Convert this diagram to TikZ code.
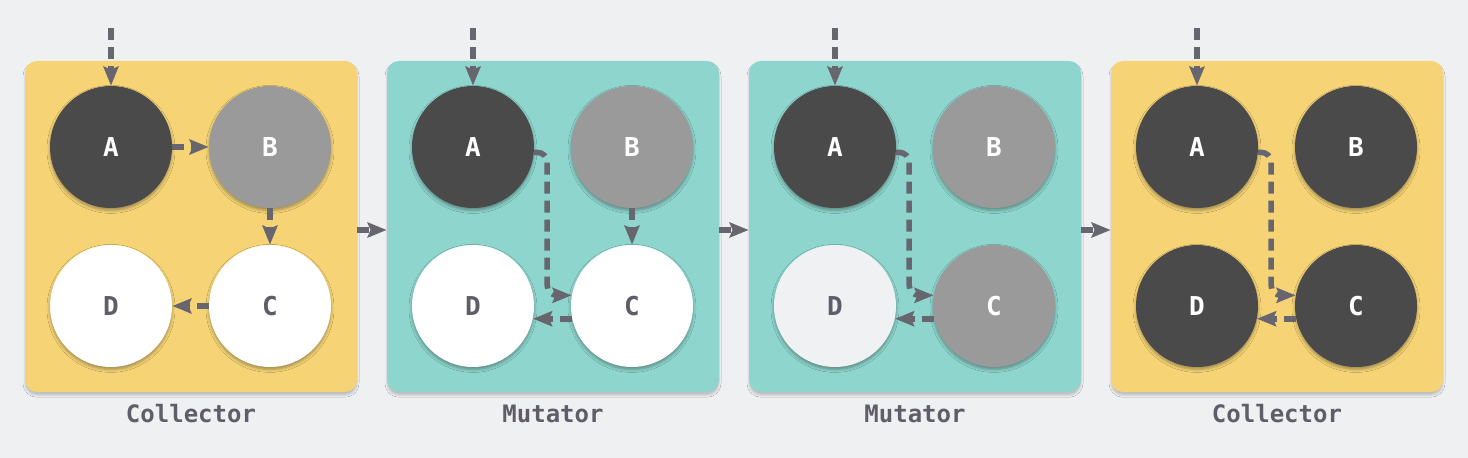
\documentclass[tikz,border=0pt]{standalone}
\usepackage{fontspec}
\setmonofont{DejaVu Sans Mono}
\usetikzlibrary{arrows.meta,shadows.blur}

\definecolor{bgcol}{HTML}{EFF0F2}
\definecolor{collcol}{HTML}{F6D476}
\definecolor{mutcol}{HTML}{8DD5CD}
\definecolor{objdark}{HTML}{4A4A4A}
\definecolor{objgrey}{HTML}{9A9A9A}
\definecolor{objlight}{HTML}{F0F1F3}
\definecolor{refcol}{HTML}{67666F}
\definecolor{labcol}{HTML}{5E5D68}

\tikzset{
  panel/.style={shape=rectangle, rounded corners=6pt, minimum width=166pt, minimum height=165.5pt,
    blur shadow={shadow xshift=0pt, shadow yshift=-1.6pt, shadow blur radius=1pt, shadow opacity=20}},
  obj/.style={shape=circle, minimum size=61pt, inner sep=0pt,
    font=\ttfamily\bfseries\fontsize{13}{13}\selectfont,
    blur shadow={shadow xshift=0pt, shadow yshift=-1.2pt, shadow blur radius=1.5pt, shadow opacity=35}},
  black/.style={obj, fill=objdark, text=white},
  grey/.style={obj, fill=objgrey, text=white},
  white/.style={obj, fill=white, text=labcol},
  light/.style={obj, fill=objlight, text=labcol},
  ref/.style={draw=refcol, line width=2.8pt, dash pattern=on 6pt off 3.5pt,
    -{Stealth[length=9.5pt,width=7.5pt,inset=1.5pt]}},
  caption/.style={font=\ttfamily\bfseries\fontsize{12}{12}\selectfont, text=labcol}
}

\begin{document}
\begin{tikzpicture}[x=0.5pt,y=-0.5pt]
    \useasboundingbox[fill=bgcol] (0,0) rectangle (1468,458);

    %collector 1
    \node[panel, fill=collcol] (p1) at (191,226.5) {};
    \node[caption] (l1) at (191,414) {Collector};
    \node[black] (a1) at (111,147) {A};
    \node[grey] (b1) at (270,147) {B};
    \node[white] (c1) at (270,306) {C};
    \node[white] (d1) at (111,306) {D};
    \coordinate (r1) at (111,28);

    %mutator 1
    \node[panel, fill=mutcol] (p2) at (553,226.5) {};
    \node[caption] (l2) at (553,414) {Mutator};
    \node[black] (a2) at (473,147) {A};
    \node[grey] (b2) at (632,147) {B};
    \node[white] (c2) at (632,306) {C};
    \node[white] (d2) at (473,306) {D};
    \coordinate (r2) at (473,28);

    %mutator 2
    \node[panel, fill=mutcol] (p3) at (915,226.5) {};
    \node[caption] (l3) at (915,414) {Mutator};
    \node[black] (a3) at (835,147) {A};
    \node[grey] (b3) at (994,147) {B};
    \node[grey] (c3) at (994,306) {C};
    \node[light] (d3) at (835,306) {D};
    \coordinate (r3) at (835,28);

    %collector 2
    \node[panel, fill=collcol] (p4) at (1277,226.5) {};
    \node[caption] (l4) at (1277,414) {Collector};
    \node[black] (a4) at (1197,147) {A};
    \node[black] (b4) at (1356,147) {B};
    \node[black] (c4) at (1356,306) {C};
    \node[black] (d4) at (1197,306) {D};
    \coordinate (r4) at (1197,28);

    %roots
    \draw[ref] (r1) -- (a1.north);
    \draw[ref] (r2) -- (a2.north);
    \draw[ref] (r3) -- (a3.north);
    \draw[ref] (r4) -- (a4.north);

    %between phases
    \draw[ref] ([yshift=-1.75pt]p1.east) -- ([yshift=-1.75pt]p2.west);
    \draw[ref] ([yshift=-1.75pt]p2.east) -- ([yshift=-1.75pt]p3.west);
    \draw[ref] ([yshift=-1.75pt]p3.east) -- ([yshift=-1.75pt]p4.west);

    %collector 1
    \draw[ref] (a1.east) -- (b1.west);
    \draw[ref] (b1.south) -- (c1.north);
    \draw[ref] (c1.west) -- (d1.east);

    %mutator 1
    \draw[ref] (b2.south) -- (c2.north);
    \draw[ref, rounded corners=5pt] (a2.-5) -- ++(13,0) |- (c2.170);
    \draw[ref] (c2.192) -- (d2.-12);

    %mutator 2
    \draw[ref, rounded corners=5pt] (a3.-5) -- ++(13,0) |- (c3.170);
    \draw[ref] (c3.192) -- (d3.-12);

    %collector 2
    \draw[ref, rounded corners=5pt] (a4.-5) -- ++(13,0) |- (c4.170);
    \draw[ref] (c4.192) -- (d4.-12);
\end{tikzpicture}
\end{document}
